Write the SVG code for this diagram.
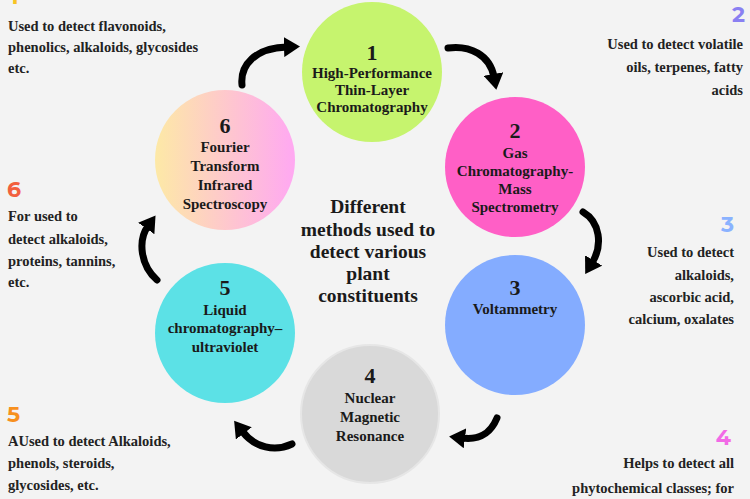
<svg xmlns="http://www.w3.org/2000/svg" width="750" height="499" viewBox="0 0 750 499">
<style>
.ct{font-family:"Liberation Serif","Times New Roman",serif;font-weight:bold;fill:#1a1a1a;text-anchor:middle}
.num{font-size:22px}
.lbl{font-size:15px}
.center{font-family:"Liberation Serif","Times New Roman",serif;font-weight:bold;font-size:19.5px;fill:#1a1a1a;text-anchor:middle}
.side{font-family:"Liberation Serif","Times New Roman",serif;font-weight:bold;font-size:14.5px;fill:#222}
.r{text-anchor:end}
.badge{font-family:Montserrat,"Open Sans","Noto Sans",sans-serif;font-weight:bold;font-size:22px}
.arr{fill:none;stroke:#000;stroke-width:7;stroke-linecap:round}
</style>
<defs>
<linearGradient id="g6" x1="0" y1="0" x2="1" y2="0">
<stop offset="0" stop-color="#fde9a6"/>
<stop offset="1" stop-color="#ffa8f2"/>
</linearGradient>
<marker id="ah" viewBox="0 0 16 20" refX="3" refY="10" markerWidth="16" markerHeight="20" markerUnits="userSpaceOnUse" orient="auto">
<path d="M0,0 L16,10 L0,20 z" fill="#000"/>
</marker>
</defs>
<rect width="750" height="499" fill="#f3f3f3"/>

<g id="connectors">
<path class="arr" marker-end="url(#ah)" d="M242 85 C240 65 255 48 287 47"/>
<path class="arr" marker-end="url(#ah)" d="M448 48 C470 45 490 55 494 77"/>
<path class="arr" marker-end="url(#ah)" d="M583 212 C600 222 603 245 592 263"/>
<path class="arr" marker-end="url(#ah)" d="M497 418 C490 435 478 440 462 438"/>
<path class="arr" marker-end="url(#ah)" d="M292 444 C275 452 255 448 242 431"/>
<path class="arr" marker-end="url(#ah)" d="M157 280 C140 265 138 240 148 226"/>
</g>

<g id="node1">
<circle cx="372" cy="72" r="70" fill="#c6f46e"/>
<text class="ct num" x="372" y="60">1</text>
<text class="ct lbl" x="372" y="78">High-Performance</text>
<text class="ct lbl" x="372" y="95">Thin-Layer</text>
<text class="ct lbl" x="372" y="112">Chromatography</text>
</g>

<g id="node2">
<circle cx="515" cy="167" r="70" fill="#ff5fc6"/>
<text class="ct num" x="515" y="138">2</text>
<text class="ct lbl" x="515" y="158">Gas</text>
<text class="ct lbl" x="515" y="176">Chromatography-</text>
<text class="ct lbl" x="515" y="194">Mass</text>
<text class="ct lbl" x="515" y="212">Spectrometry</text>
</g>

<g id="node3">
<circle cx="515" cy="325" r="70" fill="#84acff"/>
<text class="ct num" x="515" y="295">3</text>
<text class="ct lbl" x="515" y="314">Voltammetry</text>
</g>

<g id="node4">
<circle cx="370" cy="414" r="69" fill="#d9d9d9" stroke="#e6e6e6" stroke-width="2"/>
<text class="ct num" x="370" y="383">4</text>
<text class="ct lbl" x="370" y="403">Nuclear</text>
<text class="ct lbl" x="370" y="422">Magnetic</text>
<text class="ct lbl" x="370" y="441">Resonance</text>
</g>

<g id="node5">
<circle cx="225" cy="333" r="70" fill="#5ce1e6"/>
<text class="ct num" x="225" y="295">5</text>
<text class="ct lbl" x="225" y="315">Liquid</text>
<text class="ct lbl" x="225" y="333">chromatography–</text>
<text class="ct lbl" x="225" y="352">ultraviolet</text>
</g>

<g id="node6">
<circle cx="225" cy="160" r="70" fill="url(#g6)"/>
<text class="ct num" x="225" y="133">6</text>
<text class="ct lbl" x="225" y="152">Fourier</text>
<text class="ct lbl" x="225" y="171">Transform</text>
<text class="ct lbl" x="225" y="190">Infrared</text>
<text class="ct lbl" x="225" y="209">Spectroscopy</text>
</g>

<g id="title">
<text class="center" x="368" y="213">Different</text>
<text class="center" x="368" y="236">methods used to</text>
<text class="center" x="368" y="258">detect various</text>
<text class="center" x="368" y="280">plant</text>
<text class="center" x="368" y="302">constituents</text>
</g>

<g id="note1">
<text class="badge" x="10" y="4" fill="#f7c325">1</text>
<text class="side" x="8" y="31">Used to detect flavonoids,</text>
<text class="side" x="8" y="52">phenolics, alkaloids, glycosides</text>
<text class="side" x="8" y="73">etc.</text>
</g>

<g id="note2">
<text class="badge r" x="745" y="22" fill="#8a80f2">2</text>
<text class="side r" x="743" y="49">Used to detect volatile</text>
<text class="side r" x="743" y="72">oils, terpenes, fatty</text>
<text class="side r" x="743" y="95">acids</text>
</g>

<g id="note3">
<text class="badge r" x="734" y="232" fill="#8ab2ff">3</text>
<text class="side r" x="734" y="257">Used to detect</text>
<text class="side r" x="734" y="280">alkaloids,</text>
<text class="side r" x="734" y="302">ascorbic acid,</text>
<text class="side r" x="734" y="324">calcium, oxalates</text>
</g>

<g id="note4">
<text class="badge r" x="731" y="445" fill="#f26ae6">4</text>
<text class="side r" x="734" y="468">Helps to detect all</text>
<text class="side r" x="734" y="493">phytochemical classes; for</text>
</g>

<g id="note5">
<text class="badge" x="7" y="422" fill="#f7901e">5</text>
<text class="side" x="8" y="446">AUsed to detect Alkaloids,</text>
<text class="side" x="8" y="468">phenols, steroids,</text>
<text class="side" x="8" y="490">glycosides, etc.</text>
</g>

<g id="note6">
<text class="badge" x="7" y="197" fill="#f2603e">6</text>
<text class="side" x="8" y="221">For used to</text>
<text class="side" x="8" y="244">detect alkaloids,</text>
<text class="side" x="8" y="266">proteins, tannins,</text>
<text class="side" x="8" y="287">etc.</text>
</g>
</svg>
